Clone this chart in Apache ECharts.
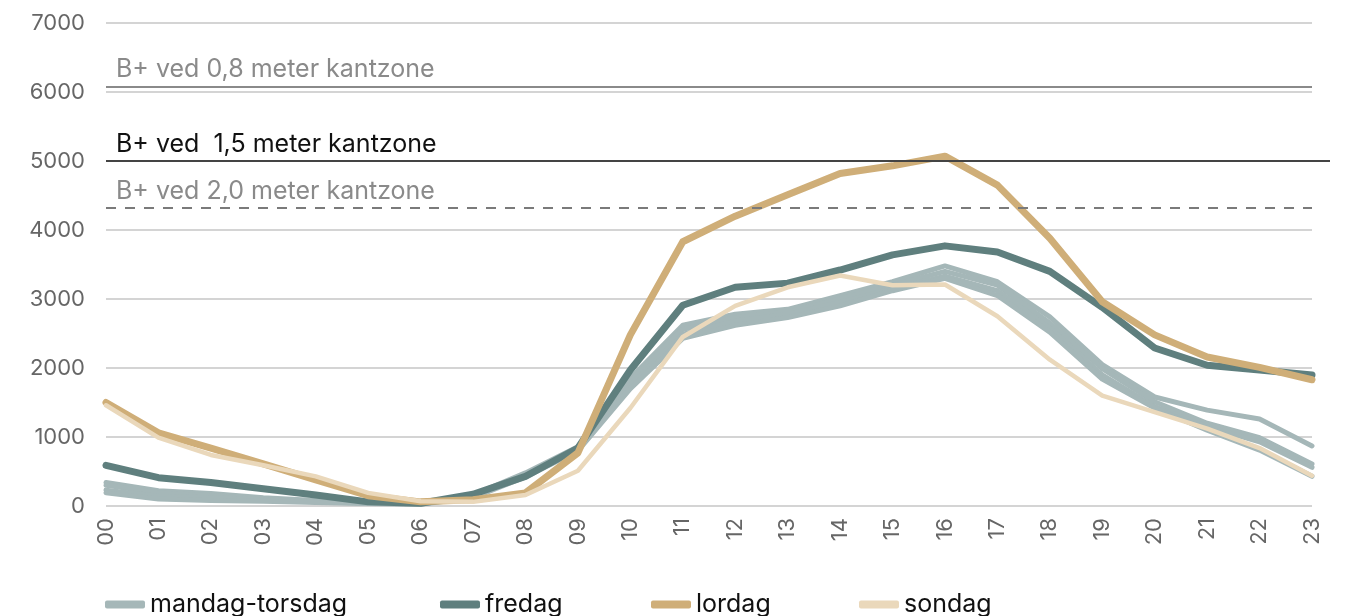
<!DOCTYPE html>
<html>
<head>
<meta charset="utf-8">
<script src="https://cdn.jsdelivr.net/npm/echarts@6/dist/echarts.min.js"></script>
<style>
  html, body { margin: 0; padding: 0; background: #fff; }
  #chart { width: 1345px; height: 616px; }
</style>
</head>
<body>
<div id="chart"></div>
<script>
// --- data ---
const hours = ['00','01','02','03','04','05','06','07','08','09','10','11',
               '12','13','14','15','16','17','18','19','20','21','22','23'];

// mandag-torsdag: one line per day
const mandag  = [340,220,180,120,80,50,40,160,480,860,1850,2620,2780,2850,3050,3250,3480,3250,2740,2050,1580,1390,1260,870];
const tirsdag = [300,190,150,100,70,45,35,140,460,840,1800,2560,2730,2810,3000,3200,3400,3200,2650,1990,1510,1200,990,610];
const onsdag  = [230,140,120,90,60,40,30,130,440,820,1750,2490,2680,2780,2950,3150,3330,3120,2580,1900,1440,1150,930,560];
const torsdag = [190,100,80,70,50,35,25,120,420,800,1700,2430,2620,2730,2900,3120,3300,3050,2520,1840,1420,1100,810,430];
const fredag  = [590,410,340,250,160,60,40,170,430,840,1970,2910,3170,3230,3420,3640,3770,3680,3400,2880,2290,2040,1970,1900];
const lordag  = [1500,1060,840,610,380,150,60,90,190,770,2480,3830,4200,4510,4820,4930,5070,4650,3880,2960,2480,2160,2010,1830];
const sondag  = [1460,990,740,590,430,190,70,60,160,510,1420,2450,2900,3170,3340,3200,3210,2750,2120,1600,1360,1120,840,440];

// reference levels
const kantzone08 = 6080;
const kantzone15 = 5000;
const kantzone20 = 4320;

const legendNames = ['mandag-torsdag', 'fredag', 'lordag', 'sondag'];

const FONT = 'Inter, Roboto, sans-serif';
const C_MT = '#a5b7b8';
const C_FR = '#5f7f7e';
const C_LO = '#cfae78';
const C_SO = '#ead8bb';

const chartDom = document.getElementById('chart');
const myChart = echarts.init(chartDom);

function lineSeries(name, data, color, width) {
  return {
    name, type: 'line', data,
    symbol: 'none',
    lineStyle: { color, width, cap: 'round', join: 'round' },
    itemStyle: { color },
    emphasis: { disabled: true }
  };
}

const mtSeries = [mandag, tirsdag, onsdag, torsdag].map(d => lineSeries('mandag-torsdag', d, C_MT, 5));

const refLines = {
  name: 'ref', type: 'line', data: [], silent: true,
  markLine: {
    symbol: 'none',
    silent: true,
    label: {
      position: 'insideStartTop', distance: [10, 4],
      fontFamily: FONT, fontSize: 25
    },
    data: [
      { yAxis: kantzone08, lineStyle: { color: '#8a8a8a', width: 2, type: 'solid' },
        label: { formatter: 'B+ ved 0,8 meter kantzone', color: '#8a8a8a' } },
      { yAxis: kantzone15, lineStyle: { color: '#444', width: 2, type: 'solid' },
        label: { formatter: 'B+ ved  1,5 meter kantzone', color: '#111' } },
      { yAxis: kantzone20, lineStyle: { color: '#7a7a7a', width: 2, type: [10, 9] },
        label: { formatter: 'B+ ved 2,0 meter kantzone', color: '#8a8a8a' } }
    ]
  }
};

// one legend per item so each sits where the original has it
const legendLeft = [100, 435, 646, 854];
const legends = legendNames.map((name, i) => ({
  bottom: -6, left: legendLeft[i],
  icon: 'roundRect', itemWidth: 40, itemHeight: 8, itemGap: 0,
  textStyle: { fontFamily: FONT, fontSize: 25, color: '#111' },
  data: [name]
}));

myChart.setOption({
  animation: false,
  grid: { left: 106, right: 33, top: 23, bottom: 110 },
  legend: legends,
  xAxis: {
    type: 'category', data: hours, boundaryGap: false,
    axisLine: { show: false }, axisTick: { show: false },
    axisLabel: { rotate: 90, margin: 12, fontFamily: FONT, fontSize: 22, color: '#666' }
  },
  yAxis: {
    type: 'value', min: 0, max: 7000, interval: 1000,
    axisLabel: { margin: 21, fontFamily: FONT, fontSize: 22, color: '#666', formatter: v => String(v) },
    splitLine: { lineStyle: { color: '#c6c6c6', width: 1.5 } }
  },
  series: [
    ...mtSeries,
    lineSeries('fredag', fredag, C_FR, 7),
    lineSeries('lordag', lordag, C_LO, 7),
    lineSeries('sondag', sondag, C_SO, 4.5),
    refLines
  ]
});

// 1,5 m line runs a little past the plot area on the right
const y15 = myChart.convertToPixel({ yAxisIndex: 0 }, kantzone15);
const xEnd = myChart.convertToPixel({ xAxisIndex: 0 }, hours[hours.length - 1]);
myChart.setOption({
  graphic: [{
    type: 'line', silent: true,
    shape: { x1: xEnd, y1: y15, x2: xEnd + 18, y2: y15 },
    style: { stroke: '#444', lineWidth: 2 }
  }]
});
</script>
</body>
</html>
